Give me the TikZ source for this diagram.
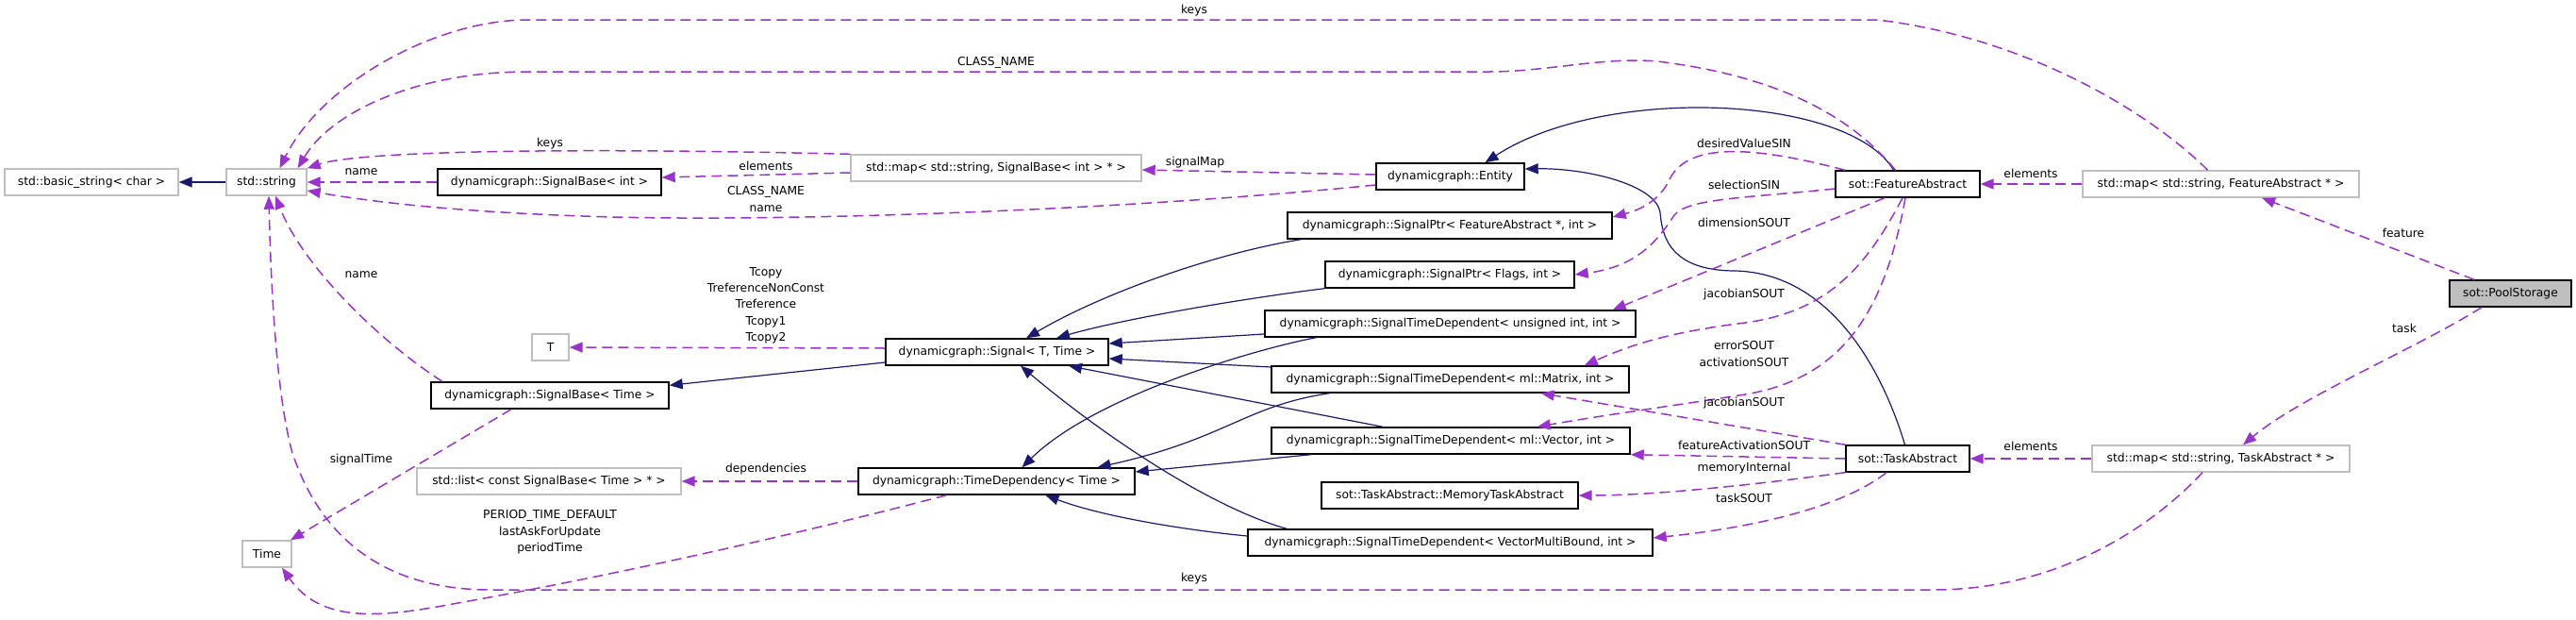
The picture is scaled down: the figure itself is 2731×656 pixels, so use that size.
\documentclass[tikz,border=0pt]{standalone}
\usepackage{fontspec}
\setmainfont{DejaVu Sans}
\usetikzlibrary{arrows.meta}
\definecolor{edgeblue}{RGB}{25,25,112}
\definecolor{edgepurple}{RGB}{154,50,205}
\definecolor{boxgray}{RGB}{191,191,191}
\begin{document}
\begin{tikzpicture}[x=1pt,y=-1pt,
  font=\fontsize{12.3}{17.3}\selectfont,
  cls/.style={draw=black,line width=1.4pt,fill=white,inner sep=0pt,minimum height=28pt},
  ext/.style={cls,draw=boxgray},
  inh/.style={edgeblue,line width=1.2pt,-{Triangle[length=14pt,width=11pt]}},
  member/.style={edgepurple,line width=1.5pt,dash pattern=on 11pt off 6pt,-{Triangle[length=14pt,width=11pt]}},
  lbl/.style={inner sep=0pt,align=center}]
\useasboundingbox (0,0) rectangle (2731,656);
% classes
\node[ext,minimum width=184pt] (bstr) at (97,193) {std::basic\_string< char >};
\node[ext,minimum width=85pt] (str) at (282.5,193) {std::string};
\node[cls,minimum width=237pt] (sbint) at (582.5,193) {dynamicgraph::SignalBase< int >};
\node[ext,minimum width=308pt] (mapsb) at (1056,178) {std::map< std::string, SignalBase< int > * >};
\node[cls,minimum width=157pt] (entity) at (1537.5,187) {dynamicgraph::Entity};
\node[cls,minimum width=344pt] (ptrfeat) at (1537,239) {dynamicgraph::SignalPtr< FeatureAbstract *, int >};
\node[cls,minimum width=264pt] (ptrflags) at (1537,291) {dynamicgraph::SignalPtr< Flags, int >};
\node[cls,minimum width=393pt] (stduint) at (1537.5,343) {dynamicgraph::SignalTimeDependent< unsigned int, int >};
\node[cls,minimum width=379pt] (stdmat) at (1537.5,402) {dynamicgraph::SignalTimeDependent< ml::Matrix, int >};
\node[cls,minimum width=380pt] (stdvec) at (1538,467) {dynamicgraph::SignalTimeDependent< ml::Vector, int >};
\node[cls,minimum width=272pt] (memtask) at (1537,525) {sot::TaskAbstract::MemoryTaskAbstract};
\node[cls,minimum width=429pt] (stdvmb) at (1537.5,575) {dynamicgraph::SignalTimeDependent< VectorMultiBound, int >};
\node[cls,minimum width=153pt] (feat) at (2022.5,195) {sot::FeatureAbstract};
\node[cls,minimum width=131pt] (task) at (2022.5,486) {sot::TaskAbstract};
\node[ext,minimum width=293pt] (mapfeat) at (2354.5,195) {std::map< std::string, FeatureAbstract * >};
\node[ext,minimum width=273pt] (maptask) at (2354.5,486) {std::map< std::string, TaskAbstract * >};
\node[cls,fill=boxgray,minimum width=129pt] (pool) at (2661.5,311) {sot::PoolStorage};
\node[ext,minimum width=39pt] (tparam) at (583.5,368) {T};
\node[cls,minimum width=252pt] (sbtime) at (583,419) {dynamicgraph::SignalBase< Time >};
\node[ext,minimum width=280pt] (deplist) at (582,510) {std::list< const SignalBase< Time > * >};
\node[ext,minimum width=52pt] (timet) at (283,587) {Time};
\node[cls,minimum width=236pt] (signal) at (1057,373) {dynamicgraph::Signal< T, Time >};
\node[cls,minimum width=293pt] (timedep) at (1056.5,510) {dynamicgraph::TimeDependency< Time >};
% inheritance
\draw[inh] (str) -- (bstr);
\draw[inh] ([yshift=-11pt]signal.west) -- ([yshift=-4pt]sbtime.north east);
\draw[inh] ([xshift=15pt]ptrfeat.south west) .. controls (1290,268) and (1170,310) .. ([xshift=31pt]signal.north);
\draw[inh] (ptrflags.south west) .. controls (1320,316) and (1190,338) .. ([xshift=63pt]signal.north);
\draw[inh] ([yshift=-11pt]stduint.west) -- ([yshift=9pt]signal.east);
\draw[inh] ([yshift=13pt]stdmat.west) -- ([yshift=-7pt]signal.east);
\draw[inh] ([xshift=-72pt]stdvec.north) -- ([xshift=76pt]signal.south);
\draw[inh] ([xshift=42pt]stdvmb.north west) .. controls (1290,540) and (1180,470) .. ([xshift=25pt]signal.south);
\draw[inh] ([xshift=-142pt]stduint.south) .. controls (1330,370) and (1160,420) .. ([xshift=27pt]timedep.north);
\draw[inh] ([xshift=-128pt]stdmat.south) .. controls (1320,430) and (1300,465) .. ([xshift=107pt]timedep.north);
\draw[inh] ([xshift=-148pt]stdvec.south) -- ([yshift=10pt]timedep.east);
\draw[inh] ([yshift=7pt]stdvmb.west) .. controls (1260,562) and (1170,548) .. ([xshift=52pt]timedep.south);
\draw[inh] ([xshift=-15pt]feat.north) .. controls (1960,100) and (1700,90) .. ([xshift=37pt]entity.north);
\draw[inh] ([xshift=-3pt]task.north) .. controls (1995,390) and (1940,290) .. (1840,287)
  .. controls (1770,287) and (1762,250) .. (1760,225) .. controls (1755,195) and (1680,178) .. ([yshift=8pt]entity.east);
% members
\draw[member] ([xshift=-14pt]mapfeat.north) .. controls (2280,120) and (2150,40) .. (1990,21) -- (560,21)
  .. controls (460,21) and (340,90) .. ([xshift=14pt]str.north);
\draw[member] ([xshift=-13pt]feat.north) .. controls (1960,120) and (1880,80) .. (1757,65)
  .. controls (1700,60) and (1640,76) .. (1579,76) -- (560,76) .. controls (440,76) and (350,120) .. ([xshift=-10pt]str.north east);
\draw[member] (mapsb.north west) .. controls (600,156) and (380,160) .. (str.north east);
\draw[member] (sbint) -- (str);
\draw[member] ([yshift=-5pt]mapsb.west) -- ([yshift=5pt]sbint.east);
\draw[member] ([yshift=2pt]entity.west) -- ([yshift=-2pt]mapsb.east);
\draw[member] ([yshift=-9pt]entity.west) .. controls (1200,222) and (850,235) .. (650,230)
  .. controls (500,226) and (400,215) .. ([yshift=-9pt]str.east);
\draw[member] ([xshift=-114pt]sbtime.north) .. controls (400,360) and (320,280) .. ([xshift=9.5pt]str.south);
\draw[member] ([xshift=-41pt]sbtime.south) -- ([xshift=25pt]timet.north);
\draw[member] ([yshift=4pt]signal.west) -- (tparam);
\draw[member] (timedep) -- (deplist);
\draw[member] ([xshift=-53pt]timedep.south) .. controls (850,565) and (650,610) .. (480,640)
  .. controls (400,655) and (340,660) .. ([xshift=16pt]timet.south);
\draw[member] ([xshift=-19.5pt]maptask.south) .. controls (2280,560) and (2180,625) .. (2050,625) -- (520,625)
  .. controls (380,625) and (330,540) .. (310,480) .. controls (293,420) and (287,300) .. ([xshift=2.5pt]str.south);
\draw[member] ([xshift=-66.5pt]feat.north) .. controls (1860,155) and (1790,150) .. (1770,190)
  .. controls (1760,212) and (1740,222) .. ([yshift=9pt]ptrfeat.east);
\draw[member] ([yshift=-5pt]feat.west) .. controls (1850,210) and (1790,210) .. (1775,228)
  .. controls (1760,250) and (1740,282) .. (ptrflags.east);
\draw[member] ([xshift=-24.5pt]feat.south) .. controls (1900,250) and (1780,300) .. ([xshift=-25pt]stduint.north east);
\draw[member] ([xshift=-5.5pt]feat.south) .. controls (1980,280) and (1940,330) .. (1850,342)
  .. controls (1770,352) and (1730,365) .. ([xshift=-48pt]stdmat.north east);
\draw[member] ([xshift=-2.5pt]feat.south) .. controls (2000,320) and (1960,400) .. (1850,418)
  .. controls (1760,432) and (1700,440) .. ([xshift=-99pt]stdvec.north east);
\draw[member] (task.north west) -- ([xshift=-94pt]stdmat.south east);
\draw[member] (task.west) -- (stdvec.south east);
\draw[member] (task.south west) .. controls (1850,515) and (1750,525) .. (memtask.east);
\draw[member] ([xshift=-22.5pt]task.south) .. controls (1950,540) and (1850,560) .. ([yshift=5pt]stdvmb.east);
\draw[member] (mapfeat) -- (feat);
\draw[member] (maptask) -- (task);
\draw[member] ([xshift=-38.5pt]pool.north) -- ([xshift=43.5pt]mapfeat.south);
\draw[member] ([xshift=-30.5pt]pool.south) .. controls (2560,370) and (2440,420) .. ([xshift=23.5pt]maptask.north);
% labels
\node[lbl] (lkeystop) at (1266,11) {keys};
\node[lbl] (lclassname) at (1056,66) {CLASS\_NAME};
\node[lbl] (lkeyssb) at (583,152) {keys};
\node[lbl] (lnamesb) at (383,182) {name};
\node[lbl] (lelemsb) at (812,176) {elements};
\node[lbl] (lsigmap) at (1267,172) {signalMap};
\node[lbl] (lentname) at (812,211) {CLASS\_NAME\\name};
\node[lbl] (lnametime) at (383,291) {name};
\node[lbl] (lsigtime) at (383,487) {signalTime};
\node[lbl] (ltcopy) at (812,323.5) {Tcopy\\TreferenceNonConst\\Treference\\Tcopy1\\Tcopy2};
\node[lbl] (ldeps) at (812,497) {dependencies};
\node[lbl] (lperiod) at (583,564) {PERIOD\_TIME\_DEFAULT\\lastAskForUpdate\\periodTime};
\node[lbl] (lkeysbot) at (1266,613) {keys};
\node[lbl] (ldesired) at (1849,152) {desiredValueSIN};
\node[lbl] (lselect) at (1849,196) {selectionSIN};
\node[lbl] (ldim) at (1849,236) {dimensionSOUT};
\node[lbl] (ljacfeat) at (1849,312) {jacobianSOUT};
\node[lbl] (lerror) at (1849,375) {errorSOUT\\activationSOUT};
\node[lbl] (ljactask) at (1849,427) {jacobianSOUT};
\node[lbl] (lfeatact) at (1849,472) {featureActivationSOUT};
\node[lbl] (lmemory) at (1849,496) {memoryInternal};
\node[lbl] (ltasksout) at (1849,528) {taskSOUT};
\node[lbl] (lelemfeat) at (2153,184) {elements};
\node[lbl] (lelemtask) at (2153,473) {elements};
\node[lbl] (lfeature) at (2548,247) {feature};
\node[lbl] (ltask) at (2549,348) {task};
\end{tikzpicture}
\end{document}
